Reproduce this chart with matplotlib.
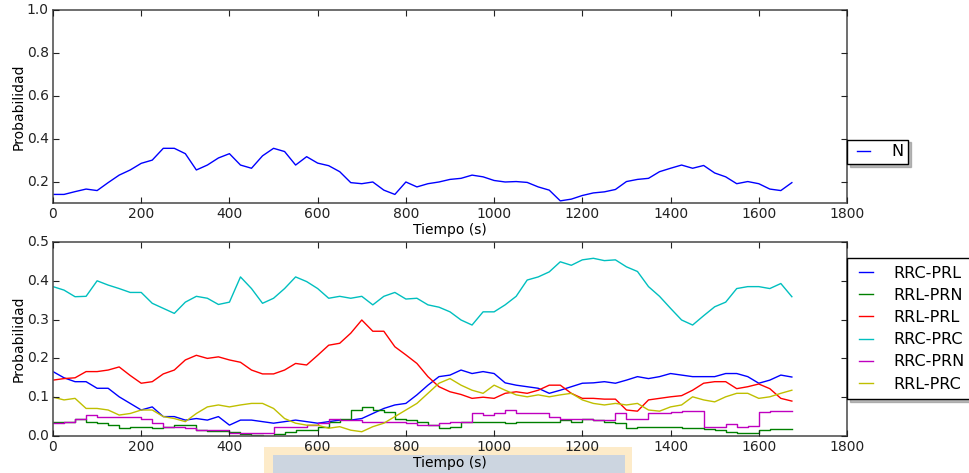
import numpy as np
import matplotlib
matplotlib.use("Agg")
import matplotlib.pyplot as plt
from matplotlib.patches import Rectangle

plt.style.use("classic")

# ---------------- data ----------------
tiempo = np.arange(0, 1700, 25)  # seconds, 0 .. 1675

N = [0.140, 0.140, 0.153, 0.165, 0.158, 0.195, 0.230, 0.254, 0.285, 0.300,
     0.355, 0.355, 0.330, 0.254, 0.277, 0.310, 0.330, 0.277, 0.262, 0.320,
     0.355, 0.340, 0.277, 0.316, 0.286, 0.274, 0.246, 0.195, 0.190, 0.198,
     0.160, 0.140, 0.198, 0.175, 0.190, 0.198, 0.210, 0.215, 0.230, 0.222,
     0.205, 0.198, 0.200, 0.196, 0.175, 0.160, 0.110, 0.118, 0.135, 0.147,
     0.152, 0.163, 0.200, 0.210, 0.215, 0.246, 0.262, 0.277, 0.262, 0.275,
     0.240, 0.222, 0.190, 0.200, 0.190, 0.165, 0.158, 0.195]

RRC_PRL = [0.166, 0.150, 0.140, 0.140, 0.123, 0.123, 0.101, 0.084, 0.067, 0.075,
           0.050, 0.050, 0.041, 0.045, 0.041, 0.050, 0.028, 0.041, 0.041, 0.037,
           0.033, 0.037, 0.041, 0.037, 0.033, 0.037, 0.041, 0.041, 0.045, 0.058,
           0.071, 0.080, 0.084, 0.106, 0.131, 0.153, 0.157, 0.170, 0.161, 0.166,
           0.161, 0.137, 0.131, 0.127, 0.123, 0.110, 0.118, 0.127, 0.136, 0.137,
           0.140, 0.136, 0.144, 0.153, 0.148, 0.153, 0.161, 0.157, 0.153, 0.153,
           0.153, 0.161, 0.161, 0.153, 0.136, 0.144, 0.157, 0.152]

RRL_PRN = [0.037, 0.037, 0.045, 0.037, 0.033, 0.028, 0.020, 0.024, 0.024, 0.020,
           0.024, 0.028, 0.028, 0.015, 0.013, 0.013, 0.011, 0.005, 0.003, 0.000,
           0.005, 0.011, 0.015, 0.015, 0.024, 0.037, 0.045, 0.068, 0.075, 0.067,
           0.062, 0.045, 0.041, 0.037, 0.028, 0.020, 0.024, 0.035, 0.037, 0.037,
           0.037, 0.033, 0.037, 0.037, 0.037, 0.037, 0.040, 0.037, 0.045, 0.041,
           0.037, 0.033, 0.020, 0.024, 0.024, 0.024, 0.023, 0.020, 0.020, 0.017,
           0.015, 0.011, 0.007, 0.007, 0.015, 0.017, 0.017, 0.017]

RRL_PRL = [0.144, 0.148, 0.150, 0.166, 0.166, 0.170, 0.178, 0.156, 0.136, 0.140,
           0.160, 0.170, 0.196, 0.208, 0.200, 0.204, 0.196, 0.190, 0.170, 0.160,
           0.160, 0.170, 0.187, 0.183, 0.208, 0.234, 0.239, 0.265, 0.299, 0.270,
           0.270, 0.230, 0.209, 0.187, 0.153, 0.127, 0.114, 0.107, 0.097, 0.100,
           0.097, 0.110, 0.114, 0.110, 0.118, 0.131, 0.131, 0.110, 0.097, 0.097,
           0.095, 0.095, 0.067, 0.064, 0.093, 0.097, 0.101, 0.104, 0.118, 0.136,
           0.140, 0.140, 0.122, 0.127, 0.134, 0.122, 0.097, 0.090]

RRC_PRC = [0.385, 0.376, 0.359, 0.360, 0.400, 0.389, 0.380, 0.370, 0.370, 0.342,
           0.329, 0.316, 0.345, 0.360, 0.355, 0.339, 0.345, 0.410, 0.380, 0.342,
           0.355, 0.380, 0.410, 0.398, 0.380, 0.355, 0.360, 0.355, 0.360, 0.338,
           0.360, 0.370, 0.353, 0.355, 0.338, 0.332, 0.320, 0.299, 0.286, 0.320,
           0.320, 0.338, 0.360, 0.402, 0.410, 0.423, 0.449, 0.440, 0.454, 0.458,
           0.452, 0.454, 0.436, 0.424, 0.385, 0.360, 0.329, 0.299, 0.286, 0.310,
           0.333, 0.345, 0.380, 0.385, 0.385, 0.380, 0.393, 0.359]

RRC_PRN = [0.033, 0.037, 0.045, 0.054, 0.050, 0.050, 0.050, 0.050, 0.045, 0.033,
           0.024, 0.024, 0.020, 0.015, 0.015, 0.015, 0.009, 0.007, 0.007, 0.007,
           0.024, 0.024, 0.024, 0.028, 0.033, 0.045, 0.041, 0.041, 0.037, 0.037,
           0.035, 0.037, 0.033, 0.028, 0.028, 0.033, 0.037, 0.037, 0.060, 0.054,
           0.058, 0.067, 0.060, 0.058, 0.060, 0.050, 0.045, 0.045, 0.045, 0.041,
           0.041, 0.058, 0.045, 0.045, 0.058, 0.060, 0.062, 0.064, 0.064, 0.024,
           0.024, 0.030, 0.024, 0.026, 0.062, 0.064, 0.065, 0.065]

RRL_PRC = [0.100, 0.093, 0.097, 0.071, 0.071, 0.067, 0.054, 0.058, 0.067, 0.067,
           0.050, 0.045, 0.037, 0.058, 0.075, 0.080, 0.075, 0.080, 0.084, 0.084,
           0.071, 0.045, 0.033, 0.028, 0.028, 0.020, 0.024, 0.015, 0.011, 0.024,
           0.033, 0.050, 0.067, 0.084, 0.110, 0.136, 0.148, 0.131, 0.118, 0.110,
           0.131, 0.118, 0.106, 0.101, 0.106, 0.101, 0.106, 0.110, 0.093, 0.084,
           0.080, 0.084, 0.080, 0.084, 0.067, 0.064, 0.075, 0.080, 0.101, 0.093,
           0.088, 0.101, 0.110, 0.110, 0.097, 0.101, 0.110, 0.118]

series_bottom = [("RRC-PRL", RRC_PRL, "b"), ("RRL-PRN", RRL_PRN, "g"),
                 ("RRL-PRL", RRL_PRL, "r"), ("RRC-PRC", RRC_PRC, "c"),
                 ("RRC-PRN", RRC_PRN, "m"), ("RRL-PRC", RRL_PRC, "y")]
step_series = {"RRL-PRN", "RRC-PRN"}

# ---------------- figure ----------------
fig = plt.figure(figsize=(9.70, 4.73), dpi=100, facecolor="white")

L, R = 53 / 970, 847 / 970
ax1 = fig.add_axes([L, 1 - 203 / 473, R - L, (203 - 10) / 473])
ax2 = fig.add_axes([L, 1 - 436 / 473, R - L, (436 - 242) / 473])

ax1.plot(tiempo, N, color="b", lw=1.0, label="N")
ax1.set_xlim(0, 1800)
ax1.set_ylim(0.1, 1.0)
ax1.set_yticks([0.2, 0.4, 0.6, 0.8, 1.0])
ax1.set_xlabel("Tiempo (s)", fontsize=10, labelpad=1)
ax1.set_ylabel("Probabilidad", fontsize=10, labelpad=1)

for name, vals, col in series_bottom:
    ds = "steps-post" if name in step_series else "default"
    ax2.plot(tiempo, vals, color=col, lw=1.0, label=name, drawstyle=ds)
ax2.set_xlim(0, 1800)
ax2.set_ylim(0.0, 0.5)
ax2.set_yticks([0.0, 0.1, 0.2, 0.3, 0.4, 0.5])
ax2.set_xlabel("Tiempo (s)", fontsize=10, labelpad=1)
ax2.set_ylabel("Probabilidad", fontsize=10, labelpad=1)

for ax in (ax1, ax2):
    ax.set_xticks(range(0, 1801, 200))
    ax.tick_params(labelsize=10, direction="in", length=4, width=0.8,
                   colors="#222222", pad=3)
    for sp in ax.spines.values():
        sp.set_color("#555555")
        sp.set_linewidth(1.2)

common = dict(loc="upper left", fontsize=11.5, frameon=True, fancybox=False,
              shadow={"color": "0.55", "alpha": 0.6}, handlelength=1.45,
              handletextpad=1.0, borderaxespad=0.0)
leg1 = ax1.legend(bbox_to_anchor=(1.0, 0.328), borderpad=0.3, **common)
leg1.get_frame().set_edgecolor("black")

leg2 = ax2.legend(bbox_to_anchor=(1.0, 0.915), borderpad=0.45,
                  labelspacing=0.45, **common)
leg2.get_frame().set_edgecolor("black")

# highlight box behind the bottom x label (present in the reference)
fig.add_artist(Rectangle((264 / 970, 0), (632 - 264) / 970, (473 - 447) / 473,
                         transform=fig.transFigure, facecolor="#fdebc9",
                         edgecolor="none", zorder=-2))
fig.add_artist(Rectangle((273 / 970, 0), (625 - 273) / 970, (473 - 455) / 473,
                         transform=fig.transFigure, facecolor="#ccd5e0",
                         edgecolor="none", zorder=-1))

fig.savefig("out.png", dpi=100, facecolor="white")
